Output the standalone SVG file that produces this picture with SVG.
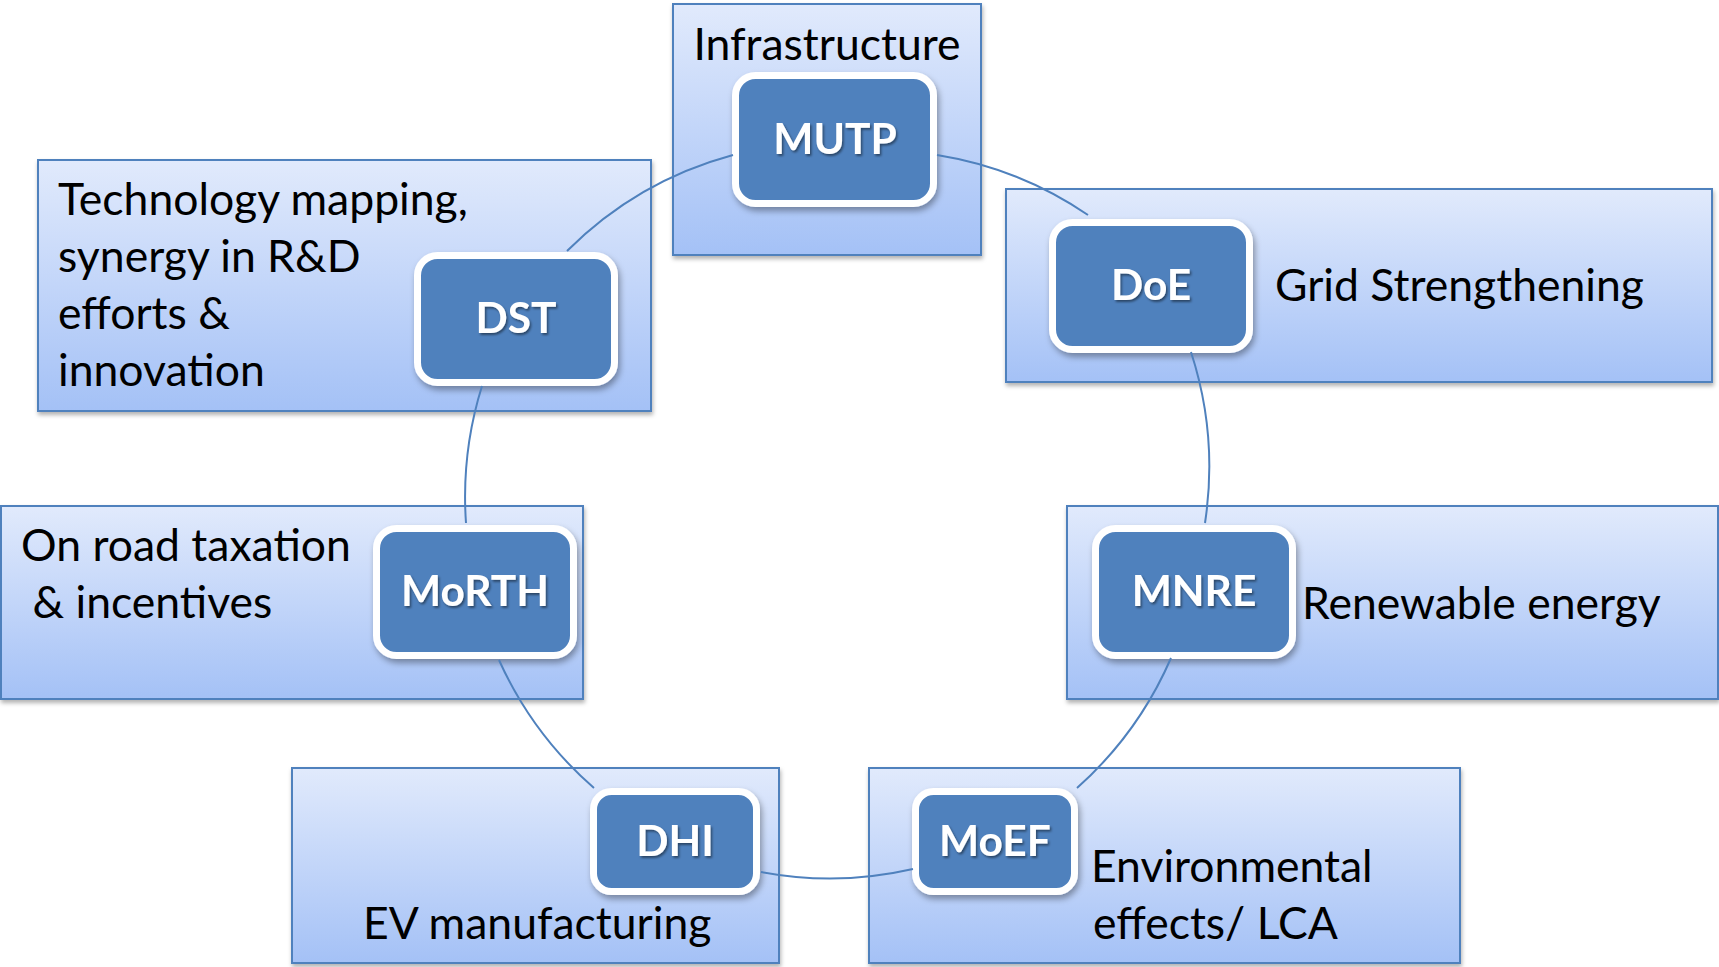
<svg xmlns="http://www.w3.org/2000/svg" width="1719" height="967" viewBox="0 0 1719 967">
<defs>
  <linearGradient id="pg" x1="0" y1="0" x2="0" y2="1">
    <stop offset="0" stop-color="#e1eafc"/>
    <stop offset="1" stop-color="#a4c1f6"/>
  </linearGradient>
  <filter id="psh" x="-5%" y="-5%" width="110%" height="115%">
    <feDropShadow dx="1" dy="3" stdDeviation="2" flood-color="#000" flood-opacity="0.3"/>
  </filter>
  <filter id="nsh" x="-10%" y="-10%" width="125%" height="130%">
    <feDropShadow dx="2" dy="4" stdDeviation="3" flood-color="#000" flood-opacity="0.35"/>
  </filter>
  <filter id="tsh" x="-10%" y="-10%" width="125%" height="140%">
    <feDropShadow dx="1.5" dy="2" stdDeviation="1" flood-color="#000" flood-opacity="0.45"/>
  </filter>
  <style>
    .panel{fill:url(#pg);stroke:#4f81bd;stroke-width:2;filter:url(#psh)}
    .box{fill:#4f81bd;stroke:#fff;stroke-width:7;filter:url(#nsh)}
    .lbl{font-family:Lato,"Open Sans",sans-serif;font-weight:bold;font-size:42.5px;fill:#fff;text-anchor:middle;filter:url(#tsh)}
    .txt{font-family:Lato,"Open Sans",sans-serif;font-size:44.5px;fill:#000}
    .conn{fill:none;stroke:#4f81bd;stroke-width:2}
  </style>
</defs>
<rect width="1719" height="967" fill="#fff"/>

<g id="mutp">
  <rect class="panel" x="673" y="4" width="308" height="251"/>
  <text class="txt" x="827" y="60" text-anchor="middle">Infrastructure</text>
  <rect class="box" x="735.5" y="75.5" width="198" height="128" rx="20"/>
  <text class="lbl" x="835" y="154">MUTP</text>
</g>

<g id="dst">
  <rect class="panel" x="38" y="160" width="613" height="251"/>
  <text class="txt" x="58" y="215">Technology mapping,</text>
  <text class="txt" x="58" y="272">synergy in R&amp;D</text>
  <text class="txt" x="58" y="329">efforts &amp;</text>
  <text class="txt" x="58" y="386">innovation</text>
  <rect class="box" x="417.5" y="255.5" width="197" height="127" rx="20"/>
  <text class="lbl" x="516" y="333">DST</text>
</g>

<g id="doe">
  <rect class="panel" x="1006" y="189" width="706" height="193"/>
  <text class="txt" x="1275" y="301">Grid Strengthening</text>
  <rect class="box" x="1052.5" y="222.5" width="197" height="127" rx="20"/>
  <text class="lbl" x="1151" y="300">DoE</text>
</g>

<g id="morth">
  <rect class="panel" x="1" y="506" width="582" height="193"/>
  <text class="txt" x="21" y="561">On road taxation</text>
  <text class="txt" x="21" y="618" xml:space="preserve"> &amp; incentives</text>
  <rect class="box" x="376.5" y="528.5" width="197" height="127" rx="20"/>
  <text class="lbl" x="475" y="606">MoRTH</text>
</g>

<g id="mnre">
  <rect class="panel" x="1067" y="506" width="651" height="193"/>
  <text class="txt" x="1302" y="619">Renewable energy</text>
  <rect class="box" x="1095.5" y="528.5" width="197" height="127" rx="20"/>
  <text class="lbl" x="1194" y="606">MNRE</text>
</g>

<g id="dhi">
  <rect class="panel" x="292" y="768" width="487" height="195"/>
  <text class="txt" x="363" y="939">EV manufacturing</text>
  <rect class="box" x="593.5" y="791.5" width="163" height="100" rx="18"/>
  <text class="lbl" x="675" y="856">DHI</text>
</g>

<g id="moef">
  <rect class="panel" x="869" y="768" width="591" height="195"/>
  <text class="txt" x="1091" y="882">Environmental</text>
  <text class="txt" x="1093" y="939">effects/ LCA</text>
  <rect class="box" x="915.5" y="791.5" width="159" height="100" rx="18"/>
  <text class="lbl" x="995" y="856">MoEF</text>
</g>

<g id="connectors">
  <path class="conn" d="M937,155 A372,372 0 0 1 1088,215"/>
  <path class="conn" d="M1191,352 A372,372 0 0 1 1205,523"/>
  <path class="conn" d="M1171,658 A372,372 0 0 1 1077,788"/>
  <path class="conn" d="M913,869 A372,372 0 0 1 761,872"/>
  <path class="conn" d="M594,788 A372,372 0 0 1 499,660"/>
  <path class="conn" d="M466,523 A372,372 0 0 1 482,386"/>
  <path class="conn" d="M567,251 A372,372 0 0 1 733,155"/>
</g>
</svg>
